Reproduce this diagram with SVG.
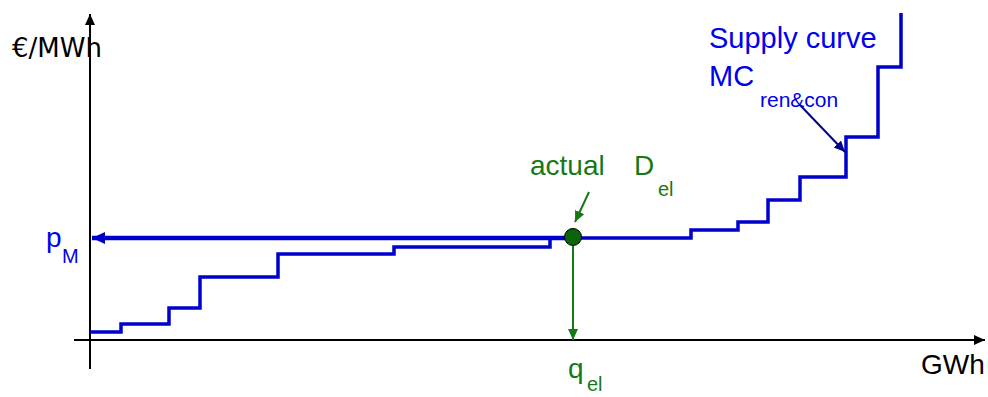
<svg xmlns="http://www.w3.org/2000/svg" width="988" height="397" viewBox="0 0 988 397">
<style>
text{font-family:"Liberation Sans",Arial,sans-serif}
.axis{stroke:#000;stroke-width:2;fill:none}
.blue{fill:#0000ee}
.green{fill:#157a15}
.big{font-size:28px}
.sub{font-size:20px}
</style>
<defs>
<marker id="ahBlack" markerUnits="userSpaceOnUse" markerWidth="12" markerHeight="12" viewBox="0 0 12 12" refX="11" refY="6" orient="auto"><path d="M0,1 L11,6 L0,11 Z" fill="#000"/></marker>
<marker id="ahBlue" markerUnits="userSpaceOnUse" markerWidth="14" markerHeight="14" viewBox="0 0 14 14" refX="13" refY="7" orient="auto"><path d="M0,1 L13,7 L0,13 Z" fill="#0000cc"/></marker>
<marker id="ahGreen" markerUnits="userSpaceOnUse" markerWidth="12" markerHeight="12" viewBox="0 0 12 12" refX="11" refY="6" orient="auto"><path d="M0,1 L11,6 L0,11 Z" fill="#157a15"/></marker>
<marker id="ahNavy" markerUnits="userSpaceOnUse" markerWidth="12" markerHeight="12" viewBox="0 0 12 12" refX="11" refY="6" orient="auto"><path d="M0,1 L11,6 L0,11 Z" fill="#00008b"/></marker>
</defs>
<g id="axes">
<line class="axis" x1="90" y1="369" x2="90" y2="14" marker-end="url(#ahBlack)"/>
<line class="axis" x1="74" y1="340" x2="985" y2="340" marker-end="url(#ahBlack)"/>
<text x="12" y="57" style="font-family:'DejaVu Sans',sans-serif;font-size:26px" fill="#000">€/MWh</text>
<text x="921" y="374" class="big" fill="#000">GWh</text>
</g>
<g id="supply-curve">
<path d="M90,332 H121 V324 H169 V308 H200 V277 H278 V254 H394 V247 H550 V238 H691 V230 H738 V222 H768 V200 H800 V177 H846 V137 H878 V67 H901 V13" fill="none" stroke="#0000cc" stroke-width="3.5"/>
<text x="709" y="48" class="blue" style="font-size:29px">Supply curve</text>
<text x="709" y="86" class="blue" style="font-size:29px">MC</text>
<text x="760" y="107" class="blue" style="font-size:21px">ren&amp;con</text>
</g>
<g id="connectors">
<line x1="573" y1="238" x2="92" y2="238" stroke="#0000cc" stroke-width="4.5" marker-end="url(#ahBlue)"/>
<line x1="573" y1="238" x2="573" y2="340" stroke="#157a15" stroke-width="2" marker-end="url(#ahGreen)"/>
<line x1="589" y1="192" x2="575" y2="222" stroke="#157a15" stroke-width="2" marker-end="url(#ahGreen)"/>
<line x1="800" y1="105" x2="845" y2="152" stroke="#00008b" stroke-width="2" marker-end="url(#ahNavy)"/>
</g>
<g id="equilibrium">
<circle cx="573" cy="237" r="8.5" fill="#0b640b" stroke="#000" stroke-width="1"/>
</g>
<g id="label-pM">
<text x="46" y="247" class="big blue">p</text>
<text x="62" y="263" class="sub blue">M</text>
</g>
<g id="label-D">
<text x="530" y="175" class="big green">actual</text>
<text x="634" y="175" class="big green">D</text>
<text x="658" y="196" class="sub green">el</text>
</g>
<g id="label-q">
<text x="568" y="378" class="big green">q</text>
<text x="587" y="391" class="sub green">el</text>
</g>
</svg>
